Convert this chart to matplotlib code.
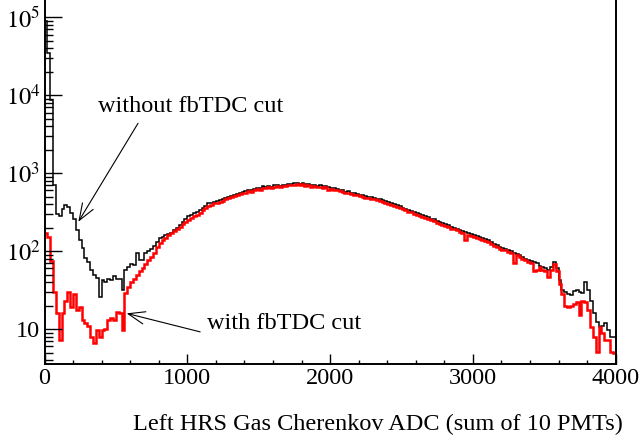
import numpy as np
import matplotlib
matplotlib.use("Agg")
import matplotlib.pyplot as plt
from matplotlib.ticker import FixedLocator, NullFormatter

plt.rcParams['font.family'] = ['Liberation Serif', 'DejaVu Serif']
plt.rcParams['mathtext.fontset'] = 'stix'

# histogram binning: 200 bins of 20 ADC channels
bin_width = 20
n_bins = 200

# counts per bin, without fbTDC cut (black)
no_cut = [
    90000, 35000, 8700, 700, 300, 280, 350, 390, 370, 310,
    260, 185, 140, 110, 82, 72, 58, 50, 45, 26,
    42, 40, 44, 42, 48, 44, 44, 32, 57, 62,
    68, 66, 95, 78, 76, 95, 100, 108, 115, 130,
    147, 152, 160, 165, 172, 185, 200, 216, 235, 260,
    285, 295, 310, 320, 335, 360, 385, 410, 420, 430,
    440, 450, 465, 480, 500, 510, 525, 540, 560, 570,
    585, 610, 600, 630, 645, 640, 680, 670, 690, 675,
    700, 710, 695, 715, 705, 730, 720, 740, 750, 730,
    745, 720, 735, 700, 715, 690, 700, 680, 690, 665,
    650, 640, 625, 610, 600, 575, 585, 560, 550, 545,
    525, 520, 505, 500, 490, 480, 470, 462, 450, 440,
    425, 415, 400, 390, 375, 360, 350, 335, 330, 315,
    305, 300, 290, 280, 272, 260, 255, 245, 235, 230,
    222, 215, 205, 200, 195, 185, 180, 178, 172, 165,
    160, 155, 150, 148, 142, 138, 130, 125, 120, 112,
    110, 108, 103, 100, 96, 92, 88, 85, 80, 77,
    74, 72, 70, 65, 62, 60, 57, 62, 73, 60,
    42, 32, 30, 28, 27, 31, 32, 30, 29, 40,
    32, 23, 16, 12.4, 10.7, 11, 12, 9.7, 8, 8,
]

# counts per bin, with fbTDC cut (red)
with_cut = [
    170, 150, 75, 30, 16, 7.2, 16, 23, 30, 19,
    28, 17.5, 19, 13, 12, 11, 8, 6.6, 9.7, 8,
    9.7, 10, 13, 14, 13, 16.5, 16, 9.7, 29, 35,
    40, 44, 50, 55, 60, 68, 77, 85, 95, 112,
    127, 138, 148, 160, 170, 180, 192, 205, 220, 235,
    250, 265, 280, 295, 310, 335, 360, 385, 395, 410,
    420, 425, 445, 460, 480, 490, 505, 520, 540, 550,
    565, 590, 580, 610, 620, 615, 655, 645, 665, 650,
    675, 690, 670, 690, 680, 705, 700, 715, 725, 705,
    720, 695, 710, 665, 690, 665, 675, 655, 660, 600,
    625, 615, 600, 590, 575, 550, 565, 535, 525, 520,
    505, 500, 485, 480, 470, 460, 450, 440, 430, 420,
    405, 395, 385, 370, 360, 345, 335, 320, 315, 300,
    290, 285, 275, 268, 260, 248, 240, 232, 222, 218,
    210, 203, 195, 190, 185, 175, 170, 140, 163, 158,
    152, 148, 143, 140, 135, 130, 124, 118, 114, 107,
    104, 102, 98, 95, 70, 88, 84, 80, 76, 73,
    70, 55, 58, 62, 58, 56, 47, 58, 68, 56,
    38, 28, 20, 19, 20, 21, 22, 15, 23, 22,
    17.5, 10.7, 8, 5.1, 10.7, 8.9, 7.2, 7.2, 5.1, 5,
]

x_ticks = [0, 1000, 2000, 3000, 4000]
y_ticks = [10, 1e2, 1e3, 1e4, 1e5]
y_tick_labels = ['10', '$10^{2}$', '$10^{3}$', '$10^{4}$', '$10^{5}$']

edges = np.arange(n_bins + 1) * bin_width

fig = plt.figure(figsize=(6.41, 4.40), dpi=100)
ax = fig.add_axes([44.5 / 641, 1 - 364 / 440, (615.7 - 44.5) / 641, 364 / 440])

ax.stairs(no_cut, edges, baseline=None, color='black', lw=1.1)
ax.stairs(with_cut, edges, baseline=None, color='#ff0000', lw=1.8)

ax.set_yscale('log')
ax.set_xlim(0, 4000)
ax.set_ylim(3.56, 1.67e5)

ax.set_xticks(x_ticks)
ax.set_xticklabels([str(t) for t in x_ticks])
ax.xaxis.set_minor_locator(FixedLocator(np.arange(0, 4001, 200)))
ax.yaxis.set_major_locator(FixedLocator(y_ticks))
ax.set_yticklabels(y_tick_labels)
ax.yaxis.set_minor_locator(FixedLocator(
    [m * 10.0 ** e for e in range(0, 6) for m in range(2, 10)]))
ax.yaxis.set_minor_formatter(NullFormatter())

ax.tick_params(axis='both', which='both', direction='in', width=1.0,
               labelsize=17.5, top=False, right=False)
ax.tick_params(axis='x', which='major', length=7, pad=3)
ax.tick_params(axis='x', which='minor', length=3.2)
ax.tick_params(axis='y', which='major', length=12, pad=3)
ax.tick_params(axis='y', which='minor', length=6)

ax.spines['top'].set_visible(False)
for s in ['left', 'bottom', 'right']:
    ax.spines[s].set_linewidth(1.4)

ax.annotate('without fbTDC cut', xy=(237, 238), xytext=(378, 7100),
            fontsize=17.5, va='center', ha='left')
ax.annotate('', xy=(237, 238), xytext=(655, 4370),
            arrowprops=dict(arrowstyle='->,head_length=0.8,head_width=0.3',
                            lw=0.8, color='black', mutation_scale=15,
                            shrinkA=0, shrinkB=0))
ax.annotate('with fbTDC cut', xy=(575, 15.9), xytext=(1138, 11.9),
            fontsize=17.5, va='center', ha='left')
ax.annotate('', xy=(575, 15.9), xytext=(1090, 9.2),
            arrowprops=dict(arrowstyle='->,head_length=0.8,head_width=0.3',
                            lw=0.8, color='black', mutation_scale=15,
                            shrinkA=0, shrinkB=0))

fig.text(623 / 641, 1 - 424 / 440, 'Left HRS Gas Cherenkov ADC (sum of 10 PMTs)',
         ha='right', va='center', fontsize=17.5)

fig.savefig('out.png', dpi=100)
